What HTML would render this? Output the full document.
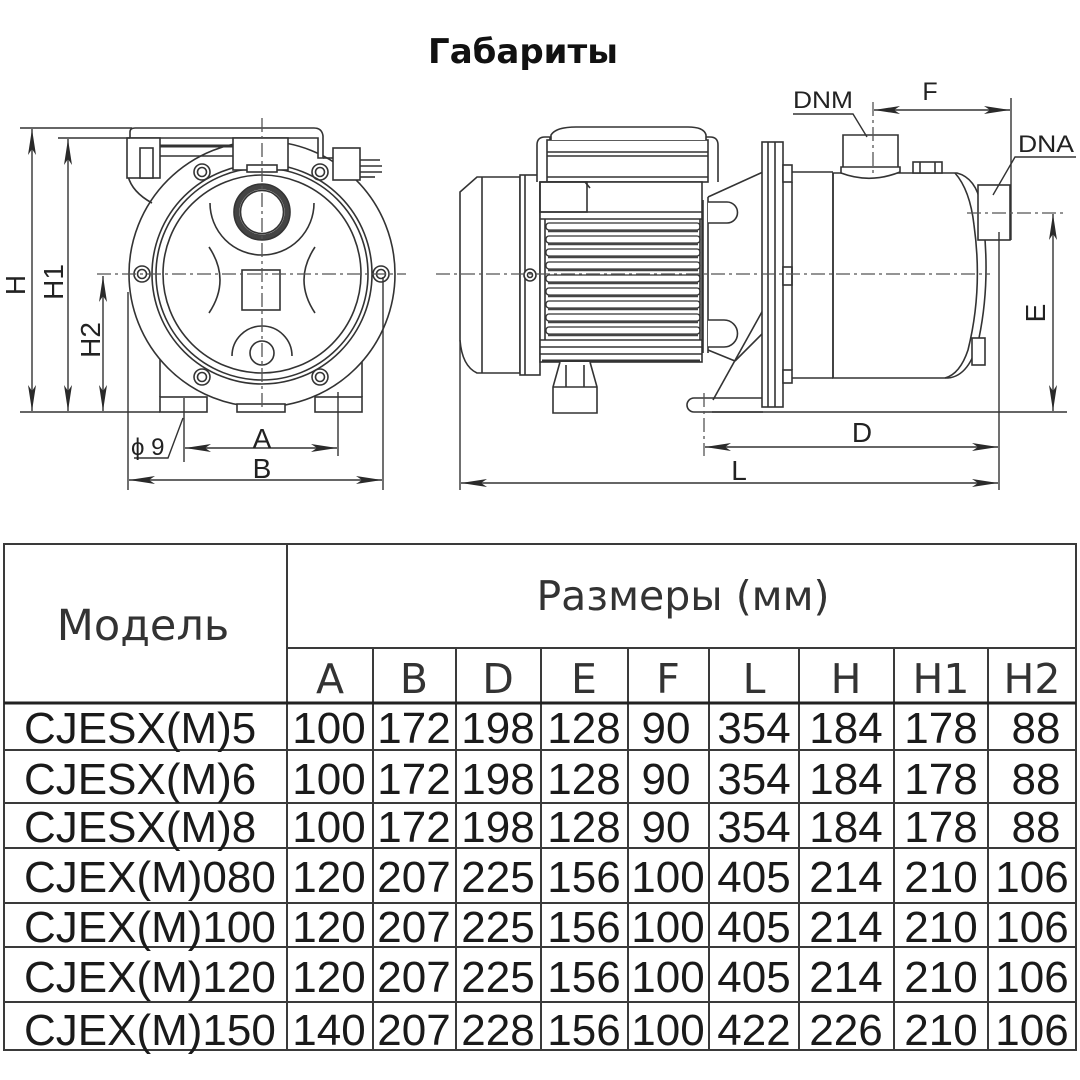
<!DOCTYPE html>
<html><head><meta charset="utf-8"><style>
html,body{margin:0;padding:0;background:#fff;}
svg{display:block;}
</style></head><body>
<svg width="1080" height="1080" viewBox="0 0 1080 1080" xmlns="http://www.w3.org/2000/svg">
<defs>
<marker id="ar" viewBox="0 0 26 8" refX="26" refY="4" markerWidth="26" markerHeight="8" markerUnits="userSpaceOnUse" orient="auto-start-reverse"><path d="M0,0 L26,4 L0,8 L6,4 Z" fill="#2a2a2a"/></marker>
</defs>
<rect width="1080" height="1080" fill="#fff"/>
<text x="523" y="63" text-anchor="middle" font-family="DejaVu Sans, sans-serif" font-weight="bold" font-size="34" fill="#111">Габариты</text>

<!-- FRONT VIEW -->
<g stroke="#333" stroke-width="1.6" fill="none">
<line x1="160" y1="355" x2="160" y2="397"/>
<line x1="362" y1="355" x2="362" y2="397"/>
<circle cx="262" cy="274" r="133" fill="#fff"/>
<circle cx="262" cy="274" r="110"/>
<circle cx="262" cy="274" r="106"/>
<circle cx="262" cy="274" r="99"/>
<path d="M128,176 Q132,192 152,203"/>
<path d="M130,138 V132 Q130,128 135,128 H314 Q322,128 323,136 V158 H318 V138 Z" fill="#fff"/>
<rect x="127" y="138" width="33" height="40" fill="#fff"/>
<rect x="140" y="148" width="13" height="30" fill="#fff"/>
<line x1="160" y1="146" x2="233" y2="146" stroke-width="3"/>
<line x1="160" y1="156" x2="233" y2="156"/>
<rect x="233" y="138" width="55" height="32" fill="#fff"/>
<rect x="247" y="165" width="30" height="7" fill="#fff"/>
<line x1="323" y1="158" x2="333" y2="158"/>
<rect x="333" y="148" width="27" height="32" fill="#fff"/>
<line x1="360" y1="160" x2="380" y2="160"/>
<line x1="360" y1="166" x2="382" y2="166"/>
<line x1="360" y1="172" x2="382" y2="172"/>
<line x1="360" y1="177" x2="375" y2="177"/>
<g>
<circle cx="202" cy="172" r="8"/><circle cx="202" cy="172" r="4.5"/>
<circle cx="320" cy="172" r="8"/><circle cx="320" cy="172" r="4.5"/>
<circle cx="142" cy="274" r="8"/><circle cx="142" cy="274" r="4.5"/>
<circle cx="381" cy="274" r="8"/><circle cx="381" cy="274" r="4.5"/>
<circle cx="202" cy="377" r="8"/><circle cx="202" cy="377" r="4.5"/>
<circle cx="320" cy="377" r="8"/><circle cx="320" cy="377" r="4.5"/>
</g>
<circle cx="262" cy="212" r="25" stroke="#444" stroke-width="5"/>
<circle cx="262" cy="212" r="28"/>
<circle cx="262" cy="212" r="21.5"/>
<path d="M210,203 A52,52 0 0 0 314,203"/>
<path d="M209,247 Q231,280 209,313"/>
<path d="M315,247 Q293,280 315,313"/>
<rect x="242" y="270" width="38" height="40"/>
<circle cx="262" cy="353" r="12"/>
<path d="M232,356 A30,30 0 0 1 292,356"/>
<rect x="160" y="397" width="47" height="15" fill="#fff"/>
<rect x="315" y="397" width="47" height="15" fill="#fff"/>
<rect x="237" y="404" width="48" height="8" fill="#fff"/>
</g>
<!-- front dimensions -->
<g stroke="#333" stroke-width="1.4" fill="none">
<line x1="20" y1="128" x2="132" y2="128"/>
<line x1="58" y1="138" x2="130" y2="138"/>
<line x1="20" y1="412" x2="160" y2="412"/>
<line x1="32" y1="129" x2="32" y2="411" marker-start="url(#ar)" marker-end="url(#ar)"/>
<line x1="68" y1="139" x2="68" y2="411" marker-start="url(#ar)" marker-end="url(#ar)"/>
<line x1="103" y1="276" x2="103" y2="411" marker-start="url(#ar)" marker-end="url(#ar)"/>
<line x1="184" y1="398" x2="184" y2="462"/>
<line x1="338" y1="392" x2="338" y2="456"/>
<line x1="128" y1="292" x2="128" y2="490"/>
<line x1="383" y1="277" x2="383" y2="490"/>
<line x1="185" y1="448" x2="337" y2="448" marker-start="url(#ar)" marker-end="url(#ar)"/>
<line x1="129" y1="480" x2="382" y2="480" marker-start="url(#ar)" marker-end="url(#ar)"/>
<path d="M134,458 H168 L183,418"/>
</g>
<g stroke="#555" stroke-width="1.3" fill="none" stroke-dasharray="14 4 3 4">
<line x1="97" y1="274" x2="406" y2="274"/>
<line x1="262" y1="118" x2="262" y2="412"/>
</g>
<g font-family="Liberation Sans, Arial, sans-serif" fill="#222" font-size="28">
<text transform="translate(15,285) rotate(-90)" x="0" y="10" text-anchor="middle">H</text>
<text transform="translate(53,282) rotate(-90)" x="0" y="10" text-anchor="middle">H1</text>
<text transform="translate(90,340) rotate(-90)" x="0" y="10" text-anchor="middle">H2</text>
<text x="262" y="448" text-anchor="middle">A</text>
<text x="262" y="478" text-anchor="middle">B</text>
<text x="131" y="455" font-size="24">ϕ 9</text>
</g>

<!-- SIDE VIEW -->
<g stroke="#333" stroke-width="1.6" fill="none">
<!-- fan cover -->
<path d="M460,340 L460,192 L477,177 L520,177 L520,373 L477,373 Q462,366 460,340 Z" fill="#fff"/>
<line x1="482" y1="177" x2="482" y2="373"/>
<rect x="520" y="175" width="20" height="200" fill="#fff"/>
<line x1="525" y1="175" x2="525" y2="375"/>
<circle cx="530" cy="275" r="6" fill="#fff"/>
<circle cx="530" cy="275" r="2.5"/>
<!-- terminal box -->
<path d="M537,182 V145 Q537,137 545,137 H550 V182" fill="#fff"/>
<path d="M718,182 V145 Q718,137 710,137 H705 V182" fill="#fff"/>
<rect x="547" y="140" width="161" height="42" fill="#fff"/>
<path d="M551,140 V135 Q556,127 576,127 H688 Q704,127 706,135 V140" fill="#fff"/>
<line x1="547" y1="152" x2="708" y2="152"/>
<line x1="547" y1="156" x2="708" y2="156"/>
<line x1="547" y1="177" x2="708" y2="177"/>
<!-- motor body -->
<rect x="540" y="182" width="162" height="180" fill="#fff"/>
<rect x="540" y="182" width="47" height="30"/>
<line x1="585" y1="182" x2="590" y2="188"/>
<line x1="540" y1="212" x2="702" y2="212"/>
<line x1="540" y1="219" x2="702" y2="219"/>
<line x1="545" y1="219" x2="545" y2="340"/>
<line x1="700" y1="219" x2="700" y2="340"/>
<g stroke-width="1.3">
<rect x="546" y="223" width="154" height="7" rx="3"/>
<rect x="546" y="236" width="154" height="7" rx="3"/>
<rect x="546" y="249" width="154" height="7" rx="3"/>
<rect x="546" y="262" width="154" height="7" rx="3"/>
<rect x="546" y="275" width="154" height="7" rx="3"/>
<rect x="546" y="288" width="154" height="7" rx="3"/>
<rect x="546" y="301" width="154" height="7" rx="3"/>
<rect x="546" y="314" width="154" height="7" rx="3"/>
<rect x="546" y="327" width="154" height="7" rx="3"/>
</g>
<g stroke="#444" stroke-width="2.4">
<line x1="548" y1="231" x2="698" y2="231"/>
<line x1="548" y1="244" x2="698" y2="244"/>
<line x1="548" y1="257" x2="698" y2="257"/>
<line x1="548" y1="270" x2="698" y2="270"/>
<line x1="548" y1="283" x2="698" y2="283"/>
<line x1="548" y1="296" x2="698" y2="296"/>
<line x1="548" y1="309" x2="698" y2="309"/>
<line x1="548" y1="322" x2="698" y2="322"/>
<line x1="548" y1="335" x2="698" y2="335"/>
</g>
<line x1="540" y1="340" x2="702" y2="340"/>
<line x1="540" y1="347" x2="702" y2="347"/>
<line x1="540" y1="354" x2="702" y2="354"/>
<line x1="542" y1="361" x2="700" y2="361" stroke-width="3"/>
<!-- end plate, bumps, bracket -->
<line x1="703" y1="200" x2="703" y2="353"/>
<line x1="708" y1="197" x2="708" y2="353"/>
<path d="M708,202 H727 A10.5,10.5 0 0 1 727,223 H708" fill="#fff"/>
<path d="M708,320 H724 A13.5,13.5 0 0 1 724,347 H708" fill="#fff"/>
<line x1="708" y1="197" x2="763" y2="172"/>
<line x1="708" y1="350" x2="735" y2="361"/>
<line x1="735" y1="361" x2="763" y2="333"/>
<line x1="763" y1="310" x2="713" y2="400"/>
<!-- motor foot -->
<path d="M560,362 L553,387 V413 H597 V387 L590,362" fill="#fff"/>
<line x1="553" y1="387" x2="597" y2="387"/>
<line x1="566" y1="365" x2="566" y2="387"/>
<line x1="584" y1="365" x2="584" y2="387"/>
<!-- pump foot -->
<path d="M694,398 H763 M694,412 H763 M694,398 A7,7 0 0 0 694,412"/>
<!-- flange plate -->
<rect x="762" y="142" width="21" height="265" fill="#fff"/>
<line x1="768" y1="142" x2="768" y2="407"/>
<line x1="775" y1="142" x2="775" y2="407"/>
<rect x="783" y="165" width="9" height="17" fill="#fff"/>
<rect x="783" y="267" width="9" height="18" fill="#fff"/>
<rect x="783" y="370" width="9" height="13" fill="#fff"/>
<!-- casing -->
<line x1="792" y1="172" x2="833" y2="172"/>
<line x1="792" y1="378" x2="833" y2="378"/>
<line x1="792" y1="182" x2="792" y2="370"/>
<path d="M833,173 L957,173 Q976,178 981,205 Q992,275 979,338 Q970,376 948,378 L833,378 Z" fill="#fff"/>
<path d="M955,173 Q970,190 974,225 Q983,290 968,350 Q960,374 945,378"/>
<line x1="833" y1="173" x2="833" y2="378"/>
<path d="M843,167 V135 H898 V167" fill="#fff"/>
<path d="M841,167 H900 V172 Q870,184 841,173 Z" fill="#fff"/>
<rect x="913" y="162" width="29" height="11" fill="#fff"/>
<line x1="920" y1="162" x2="920" y2="173"/>
<line x1="935" y1="162" x2="935" y2="173"/>
<rect x="978" y="185" width="32" height="55" fill="#fff"/>
<rect x="972" y="338" width="13" height="27" fill="#fff"/>
</g>
<!-- side dimensions -->
<g stroke="#333" stroke-width="1.4" fill="none">
<line x1="460" y1="340" x2="460" y2="490"/>
<line x1="712" y1="412" x2="1067" y2="412"/>
<line x1="999" y1="232" x2="999" y2="490"/>
<line x1="1011" y1="98" x2="1011" y2="240"/>
<line x1="1053" y1="214" x2="1053" y2="411" marker-start="url(#ar)" marker-end="url(#ar)"/>
<line x1="874" y1="110" x2="1010" y2="110" marker-start="url(#ar)" marker-end="url(#ar)"/>
<line x1="705" y1="447" x2="998" y2="447" marker-start="url(#ar)" marker-end="url(#ar)"/>
<line x1="461" y1="483" x2="998" y2="483" marker-start="url(#ar)" marker-end="url(#ar)"/>
<path d="M793,114 H853 L867,137"/>
<path d="M1076,157 H1015 L993,195"/>
</g>
<g stroke="#555" stroke-width="1.3" fill="none" stroke-dasharray="14 4 3 4">
<line x1="436" y1="274" x2="990" y2="274"/>
<line x1="967" y1="213" x2="1067" y2="213"/>
<line x1="873" y1="102" x2="873" y2="176"/>
<line x1="704" y1="393" x2="704" y2="456"/>
</g>
<g font-family="Liberation Sans, Arial, sans-serif" fill="#222" font-size="28">
<text x="862" y="442" text-anchor="middle">D</text>
<text x="739" y="480" text-anchor="middle">L</text>
<text x="930" y="100" text-anchor="middle" font-size="25">F</text>
<text x="793" y="108" font-size="24" textLength="60" lengthAdjust="spacingAndGlyphs">DNM</text>
<text x="1018" y="152" font-size="24" textLength="56" lengthAdjust="spacingAndGlyphs">DNA</text>
<text transform="translate(1035,313) rotate(-90)" x="0" y="10" text-anchor="middle">E</text>
</g>

<!-- TABLE -->
<g stroke="#3a3a3a" stroke-width="2" fill="none">
<rect x="4" y="544" width="1072" height="506"/>
<line x1="287" y1="544" x2="287" y2="1050"/>
<line x1="287" y1="648" x2="1076" y2="648"/>
<line x1="373" y1="648" x2="373" y2="1050"/>
<line x1="456" y1="648" x2="456" y2="1050"/>
<line x1="541" y1="648" x2="541" y2="1050"/>
<line x1="628" y1="648" x2="628" y2="1050"/>
<line x1="709" y1="648" x2="709" y2="1050"/>
<line x1="799" y1="648" x2="799" y2="1050"/>
<line x1="894" y1="648" x2="894" y2="1050"/>
<line x1="988" y1="648" x2="988" y2="1050"/>
<line x1="4" y1="703" x2="1076" y2="703" stroke-width="3" stroke="#222"/>
<line x1="4" y1="750" x2="1076" y2="750"/>
<line x1="4" y1="803" x2="1076" y2="803"/>
<line x1="4" y1="848" x2="1076" y2="848"/>
<line x1="4" y1="903" x2="1076" y2="903"/>
<line x1="4" y1="947" x2="1076" y2="947"/>
<line x1="4" y1="1002" x2="1076" y2="1002"/>
</g>
<g font-family="DejaVu Sans, sans-serif" fill="#333">
<text x="143" y="640" text-anchor="middle" font-size="43">Модель</text>
<text x="683" y="610" text-anchor="middle" font-size="41">Размеры (мм)</text>
<g font-size="41" text-anchor="middle">
<text x="330" y="693">A</text><text x="414" y="693">B</text><text x="498" y="693">D</text>
<text x="584" y="693">E</text><text x="668" y="693">F</text><text x="754" y="693">L</text>
<text x="846" y="693">H</text><text x="941" y="693">H1</text><text x="1032" y="693">H2</text>
</g>
</g>
<g font-family="Liberation Sans, Arial, sans-serif" fill="#1a1a1a" font-size="44">
<g>
<text x="24" y="743">CJESX(M)5</text>
<text x="24" y="794">CJESX(M)6</text>
<text x="24" y="842">CJESX(M)8</text>
<text x="24" y="892">CJEX(M)080</text>
<text x="24" y="942">CJEX(M)100</text>
<text x="24" y="992">CJEX(M)120</text>
<text x="24" y="1045">CJEX(M)150</text>
</g>
<g text-anchor="middle">
<text x="329" y="743">100</text><text x="414" y="743">172</text><text x="498" y="743">198</text><text x="584" y="743">128</text><text x="666" y="743">90</text><text x="754" y="743">354</text><text x="846" y="743">184</text><text x="941" y="743">178</text><text x="1036" y="743">88</text>
<text x="329" y="794">100</text><text x="414" y="794">172</text><text x="498" y="794">198</text><text x="584" y="794">128</text><text x="666" y="794">90</text><text x="754" y="794">354</text><text x="846" y="794">184</text><text x="941" y="794">178</text><text x="1036" y="794">88</text>
<text x="329" y="842">100</text><text x="414" y="842">172</text><text x="498" y="842">198</text><text x="584" y="842">128</text><text x="666" y="842">90</text><text x="754" y="842">354</text><text x="846" y="842">184</text><text x="941" y="842">178</text><text x="1036" y="842">88</text>
<text x="329" y="892">120</text><text x="414" y="892">207</text><text x="498" y="892">225</text><text x="584" y="892">156</text><text x="668" y="892">100</text><text x="754" y="892">405</text><text x="846" y="892">214</text><text x="941" y="892">210</text><text x="1032" y="892">106</text>
<text x="329" y="942">120</text><text x="414" y="942">207</text><text x="498" y="942">225</text><text x="584" y="942">156</text><text x="668" y="942">100</text><text x="754" y="942">405</text><text x="846" y="942">214</text><text x="941" y="942">210</text><text x="1032" y="942">106</text>
<text x="329" y="992">120</text><text x="414" y="992">207</text><text x="498" y="992">225</text><text x="584" y="992">156</text><text x="668" y="992">100</text><text x="754" y="992">405</text><text x="846" y="992">214</text><text x="941" y="992">210</text><text x="1032" y="992">106</text>
<text x="329" y="1045">140</text><text x="414" y="1045">207</text><text x="498" y="1045">228</text><text x="584" y="1045">156</text><text x="668" y="1045">100</text><text x="754" y="1045">422</text><text x="846" y="1045">226</text><text x="941" y="1045">210</text><text x="1032" y="1045">106</text>
</g>
</g>
</svg>
</body></html>
